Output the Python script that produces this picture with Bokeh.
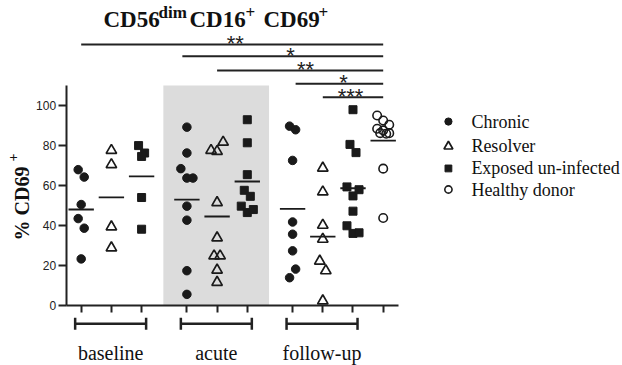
import math
import numpy as np
from bokeh.plotting import figure
from bokeh.models import Range1d, LinearAxis, FixedTicker, CustomJSTickFormatter
from bokeh.core.properties import value
from bokeh.embed import file_html
from bokeh.resources import INLINE

# ---- data: % CD69+ of CD56dim CD16+ NK cells ----
group_labels = ["baseline", "acute", "follow-up"]
series_names = ["Chronic", "Resolver", "Exposed un-infected", "Healthy donor"]

baseline_chronic = [68.0, 64.3, 50.6, 43.6, 38.8, 23.5]
baseline_resolver = [77.6, 70.5, 39.5, 29.0]
baseline_exposed = [80.0, 76.3, 74.6, 54.1, 38.3]

acute_chronic = [89.2, 76.3, 68.5, 63.8, 63.8, 49.8, 42.8, 17.6, 5.8]
acute_resolver = [77.6, 77.1, 81.7, 51.6, 34.0, 25.0, 25.0, 17.9, 11.8]
acute_exposed = [92.9, 81.4, 65.5, 57.7, 54.7, 49.8, 46.6, 48.1]

followup_chronic = [89.7, 87.9, 72.6, 41.9, 35.8, 27.5, 14.1, 18.4]
followup_resolver = [68.8, 56.9, 40.3, 33.3, 22.4, 17.6, 2.6]
followup_exposed = [97.9, 80.6, 76.5, 59.4, 54.9, 58.0, 47.3, 40.0, 36.2, 36.5]
healthy_donor = [95.0, 92.5, 90.4, 88.4, 87.6, 86.2, 86.2, 85.9, 68.5, 43.9]

# column position and series of every point column
columns = [
    (1.0, "Chronic", baseline_chronic),
    (2.0, "Resolver", baseline_resolver),
    (3.0, "Exposed un-infected", baseline_exposed),
    (4.5, "Chronic", acute_chronic),
    (5.5, "Resolver", acute_resolver),
    (6.5, "Exposed un-infected", acute_exposed),
    (8.0, "Chronic", followup_chronic),
    (9.0, "Resolver", followup_resolver),
    (10.0, "Exposed un-infected", followup_exposed),
    (11.0, "Healthy donor", healthy_donor),
]
group_columns = [(1.0, 3.0), (4.5, 6.5), (8.0, 10.0)]

# significance comparisons against healthy donors:
# (from column, to column, bar height, star label position, stars)
comparisons = [
    (1.0, 11.0, 130.4, 6.1, "**"),
    (4.35, 11.0, 124.6, 7.93, "*"),
    (5.5, 11.0, 117.5, 8.43, "**"),
    (8.1, 11.0, 110.8, 9.69, "*"),
    (9.0, 11.0, 104.1, 9.92, "***"),
]

SERIF = "Liberation Serif"
SANS = "Liberation Sans"
INK = "#1a1a1a"
TXT = "#111111"


def swarm_offsets(vals, gap=5.0, step=0.2, max_per_row=3):
    """Spread points that share a value band side by side (column scatter)."""
    n = len(vals)
    order = sorted(range(n), key=lambda i: -vals[i])
    rows = []
    for i in order:
        if rows and len(rows[-1]) < max_per_row and vals[rows[-1][0]] - vals[i] < gap:
            rows[-1].append(i)
        else:
            rows.append([i])
    offs = [0.0] * n
    for row in rows:
        row.sort()
        k = len(row)
        for j, i in enumerate(row):
            offs[i] = (j - (k - 1) / 2) * step
    return offs


p = figure(width=622, height=365,
           x_range=Range1d(-1.672, 18.924), y_range=Range1d(-29.68, 152.37),
           x_axis_type=None, y_axis_type=None,
           output_backend="svg", toolbar_location=None, min_border=0)
p.outline_line_color = None
p.background_fill_color = "white"
p.border_fill_color = "white"

# shaded acute phase
p.quad(left=[3.72], right=[7.22], bottom=[0], top=[110],
       fill_color="#dcdcdc", line_color=None)

# axes
yax = LinearAxis(fixed_location=0.5, bounds=(0, 110),
                 ticker=FixedTicker(ticks=[0, 20, 40, 60, 80, 100]),
                 axis_line_width=2, axis_line_color="#222222",
                 major_tick_out=8, major_tick_in=0, major_tick_line_width=2,
                 major_tick_line_color="#222222",
                 minor_tick_out=0, minor_tick_in=0,
                 major_label_text_font=SANS, major_label_text_font_size="12px",
                 major_label_text_color="#222222", major_label_standoff=2)
p.add_layout(yax, "left")

xax = LinearAxis(fixed_location=0, bounds=(0.5, 11.5),
                 ticker=FixedTicker(ticks=[c[0] for c in columns]),
                 axis_line_width=2, axis_line_color="#222222",
                 major_tick_out=7, major_tick_in=0, major_tick_line_width=2,
                 major_tick_line_color="#222222",
                 minor_tick_out=0, minor_tick_in=0,
                 formatter=CustomJSTickFormatter(code="return ''"))
p.add_layout(xax, "below")

# point columns and mean lines
marker_style = {
    "Chronic": dict(marker="circle", size=8.5, fill_color=INK, line_color=INK, line_width=1),
    "Resolver": dict(marker="triangle", size=10.5, fill_color=None, line_color=INK, line_width=1.7),
    "Exposed un-infected": dict(marker="square", size=8, fill_color=INK, line_color=INK, line_width=1),
    "Healthy donor": dict(marker="circle", size=8.5, fill_color=None, line_color=INK, line_width=1.6),
}
for pos, name, vals in columns:
    offs = swarm_offsets(vals)
    xs = [pos + o for o in offs]
    p.scatter(x=xs, y=vals, **marker_style[name])
    m = float(np.mean(vals))
    p.segment(x0=[pos - 0.42], x1=[pos + 0.42], y0=[m], y1=[m],
              line_color=INK, line_width=1.8)

# significance bars
bar_y = [c[2] for c in comparisons]
p.segment(x0=[c[0] for c in comparisons], x1=[c[1] for c in comparisons],
          y0=bar_y, y1=bar_y, line_color="#222222", line_width=2)
p.text(x=[c[3] for c in comparisons], y=bar_y,
       text=[c[4] for c in comparisons], text_align="center",
       text_baseline="middle", y_offset=-1,
       text_font=value(SANS), text_font_size="22px", text_color="#222222")

# group brackets and labels
bx0 = [g[0] - 0.2 for g in group_columns]
bx1 = [g[1] + 0.15 for g in group_columns]
by = -8.9
p.segment(x0=bx0, x1=bx1, y0=[by] * 3, y1=[by] * 3, line_color="#222222", line_width=2.5)
p.segment(x0=bx0 + bx1, x1=bx0 + bx1, y0=[by - 3] * 6, y1=[by + 3] * 6,
          line_color="#222222", line_width=2.5)
p.text(x=[(a + b) / 2 for a, b in zip(bx0, bx1)], y=[-23.2] * 3, text=group_labels,
       text_align="center", text_baseline="middle",
       text_font=value(SERIF), text_font_size="20px", text_color=TXT)

# y axis title: % CD69+
p.text(x=[-0.96], y=[32.7], text=["% CD69"], angle=math.pi / 2,
       text_align="left", text_baseline="middle",
       text_font=value(SERIF), text_font_style="bold", text_font_size="20px",
       text_color=TXT)
p.text(x=[-1.258], y=[72.1], text=["+"], angle=math.pi / 2,
       text_align="left", text_baseline="middle",
       text_font=value(SERIF), text_font_style="bold", text_font_size="14px",
       text_color=TXT)

# chart title: CD56dim CD16+ CD69+
title_parts = [("CD56", 0, 0, "23px"), ("dim", 55, -7, "17px"), ("CD16", 86, 0, "23px"),
               ("+", 142, -7, "17px"), ("CD69", 160, 0, "23px"), ("+", 215, -7, "17px")]
for txt, dx, dy, fs in title_parts:
    p.text(x=[1.738], y=[142.9], text=[txt], x_offset=dx, y_offset=dy,
           text_align="left", text_baseline="middle",
           text_font=value(SERIF), text_font_style="bold", text_font_size=fs,
           text_color=TXT)

# legend
leg_y = [92.0, 79.6, 68.6, 58.1]
for name, ly in zip(series_names, leg_y):
    st = dict(marker_style[name])
    st["size"] = st["size"] * 0.85
    p.scatter(x=[13.16], y=[ly], **st)
p.text(x=[13.92] * 4, y=leg_y, text=series_names, text_align="left",
       text_baseline="middle", text_font=value(SERIF), text_font_size="18px",
       text_color=TXT)

open("out.html", "w").write(file_html(p, INLINE))
